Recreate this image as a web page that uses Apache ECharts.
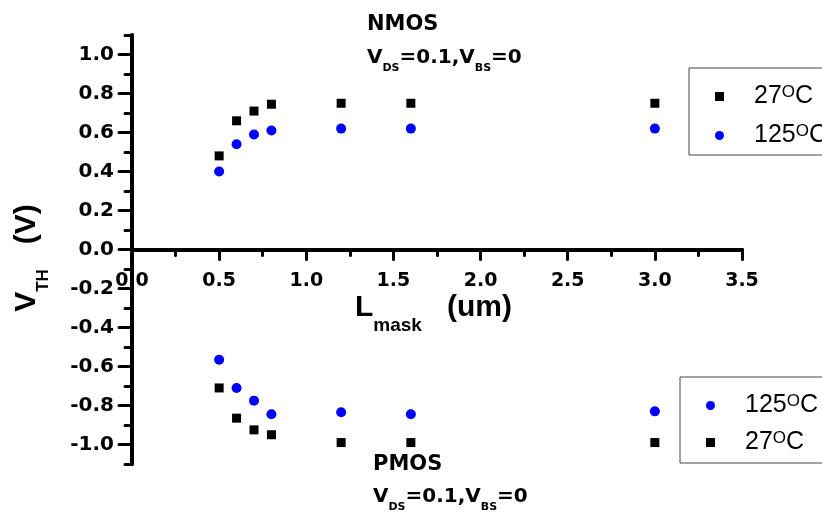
<!DOCTYPE html>
<html>
<head>
<meta charset="utf-8">
<script src="https://cdn.jsdelivr.net/npm/echarts@6/dist/echarts.min.js"></script>
<style>
  html, body { margin: 0; padding: 0; background: #fff; }
  #chart { width: 822px; height: 513px; }
</style>
</head>
<body>
<div id="chart"></div>
<script>
// gate length (um) and threshold voltages (V)
const lengths = [0.5, 0.6, 0.7, 0.8, 1.2, 1.6, 3.0];
const nmos27 = [0.48, 0.66, 0.71, 0.745, 0.75, 0.75, 0.75];
const nmos125 = [0.40, 0.54, 0.59, 0.61, 0.62, 0.62, 0.62];
const pmos125 = [-0.565, -0.71, -0.775, -0.845, -0.835, -0.845, -0.83];
const pmos27 = [-0.71, -0.865, -0.925, -0.95, -0.99, -0.99, -0.99];
const yTicks = [-1.0, -0.8, -0.6, -0.4, -0.2, 0.0, 0.2, 0.4, 0.6, 0.8, 1.0];
const legendLabels = { N27: '27', N125: '125', P125: '125', P27: '27' };

const BOLD = 'DejaVu Sans';
const TITLE = 'Liberation Sans';

// grid box; x axis is shifted up to the y = 0 line
const GRID_TOP = 35, GRID_BOTTOM = 49, Y_MIN = -1.1, Y_MAX = 1.1;
const gridHeight = 513 - GRID_TOP - GRID_BOTTOM;
const zeroShift = gridHeight * (0 - Y_MIN) / (Y_MAX - Y_MIN);

const pairs = (ys) => lengths.map((x, i) => [x, ys[i]]);

const mkSeries = (name, ys, symbol, color, size) => ({
  name: name,
  type: 'scatter',
  data: pairs(ys),
  symbol: symbol,
  symbolSize: size,
  itemStyle: { color: color, opacity: 1 },
  xAxisIndex: 0,
  yAxisIndex: 0,
  z: 5
});

// V_DS=0.1,V_BS=0 with subscripts
const condRich = {
  b: { fontFamily: BOLD, fontWeight: 'bold', fontSize: 20, lineHeight: 20, verticalAlign: 'top', color: '#000' },
  s: { fontFamily: BOLD, fontWeight: 'bold', fontSize: 11, lineHeight: 26, verticalAlign: 'bottom', color: '#000' }
};
const condText = '{b|V}{s|DS}{b|=0.1,V}{s|BS}{b|=0}';

const legendRich = {
  n: { fontFamily: TITLE, fontSize: 25, lineHeight: 25, verticalAlign: 'top', color: '#000' },
  sup: { fontFamily: TITLE, fontSize: 17, lineHeight: 14, verticalAlign: 'top', color: '#000' }
};
const legendBase = {
  orient: 'vertical',
  itemWidth: 9,
  itemHeight: 9,
  borderColor: '#444',
  borderWidth: 1,
  borderRadius: 0,
  selectedMode: false,
  formatter: (name) => '{n|' + legendLabels[name] + '}{sup|O}{n|C}',
  textStyle: { color: '#000', padding: [0, 0, 0, 25], rich: legendRich }
};

let chart = echarts.init(document.getElementById('chart'));
let option = {
  animation: false,
  backgroundColor: '#fff',
  grid: { left: 132, right: 80, top: GRID_TOP, bottom: GRID_BOTTOM, containLabel: false, outerBoundsMode: 'none' },
  xAxis: {
    type: 'value',
    position: 'bottom',
    offset: -zeroShift,
    min: 0,
    max: 3.5,
    interval: 0.5,
    axisLine: { onZero: false, lineStyle: { color: '#000', width: 4, cap: 'round' } },
    axisTick: { length: 10, lineStyle: { color: '#000', width: 3, cap: 'round' } },
    minorTick: { show: true, splitNumber: 2, length: 6, lineStyle: { color: '#000', width: 3, cap: 'round' } },
    axisLabel: {
      margin: 22, showMinLabel: true, showMaxLabel: true,
      color: '#000', fontFamily: BOLD, fontWeight: 'bold', fontSize: 19,
      formatter: (v) => v.toFixed(1)
    },
    splitLine: { show: false }
  },
  yAxis: [
    {
      type: 'value',
      position: 'left',
      min: Y_MIN,
      max: Y_MAX,
      axisLine: { onZero: false, lineStyle: { color: '#000', width: 4, cap: 'round' } },
      axisTick: { customValues: yTicks, length: 13, lineStyle: { color: '#000', width: 3, cap: 'round' } },
      axisLabel: {
        customValues: yTicks, margin: 18,
        color: '#000', fontFamily: BOLD, fontWeight: 'bold', fontSize: 20,
        formatter: (v) => v.toFixed(1)
      },
      splitLine: { show: false }
    },
    {
      // minor ticks every 0.1
      type: 'value',
      position: 'left',
      min: Y_MIN,
      max: Y_MAX,
      interval: 0.1,
      axisLine: { show: false, onZero: false },
      axisTick: { length: 7, lineStyle: { color: '#000', width: 3, cap: 'round' } },
      axisLabel: { show: false },
      splitLine: { show: false }
    }
  ],
  legend: [
    Object.assign({}, legendBase, {
      left: 689, top: 68, itemGap: 14, padding: [16, 30, 7, 26],
      data: [{ name: 'N27', icon: 'rect' }, { name: 'N125', icon: 'circle' }]
    }),
    Object.assign({}, legendBase, {
      left: 680, top: 377, itemGap: 12, padding: [16, 30, 8, 26],
      data: [{ name: 'P125', icon: 'circle' }, { name: 'P27', icon: 'rect' }]
    })
  ],
  graphic: [
    { type: 'text', x: 367, y: 25, style: { text: 'NMOS', fontFamily: BOLD, fontWeight: 'bold', fontSize: 21, fill: '#000', textVerticalAlign: 'middle' } },
    { type: 'text', x: 367, y: 48, style: { text: condText, rich: condRich, textVerticalAlign: 'top' } },
    { type: 'text', x: 373, y: 465, style: { text: 'PMOS', fontFamily: BOLD, fontWeight: 'bold', fontSize: 21, fill: '#000', textVerticalAlign: 'middle' } },
    { type: 'text', x: 373, y: 487, style: { text: condText, rich: condRich, textVerticalAlign: 'top' } },
    {
      type: 'text', x: 12, y: 258, rotation: Math.PI / 2,
      style: {
        text: '{b|V}{s|TH}{b|   (V)}',
        textAlign: 'center', textVerticalAlign: 'top',
        rich: {
          b: { fontFamily: TITLE, fontWeight: 'bold', fontSize: 30, lineHeight: 30, verticalAlign: 'top', color: '#000' },
          s: { fontFamily: TITLE, fontWeight: 'bold', fontSize: 17, lineHeight: 40, verticalAlign: 'bottom', color: '#000' }
        }
      }
    },
    {
      type: 'text', x: 355, y: 293,
      style: {
        text: '{b|L}{s|mask}{b|   (um)}',
        textVerticalAlign: 'top',
        rich: {
          b: { fontFamily: TITLE, fontWeight: 'bold', fontSize: 30, lineHeight: 30, verticalAlign: 'top', color: '#000' },
          s: { fontFamily: TITLE, fontWeight: 'bold', fontSize: 19, lineHeight: 42, verticalAlign: 'bottom', color: '#000' }
        }
      }
    }
  ],
  series: [
    mkSeries('N27', nmos27, 'rect', '#000', 9),
    mkSeries('N125', nmos125, 'circle', '#0000ff', 10),
    mkSeries('P125', pmos125, 'circle', '#0000ff', 10),
    mkSeries('P27', pmos27, 'rect', '#000', 9)
  ]
};
chart.setOption(option);
</script>
</body>
</html>
